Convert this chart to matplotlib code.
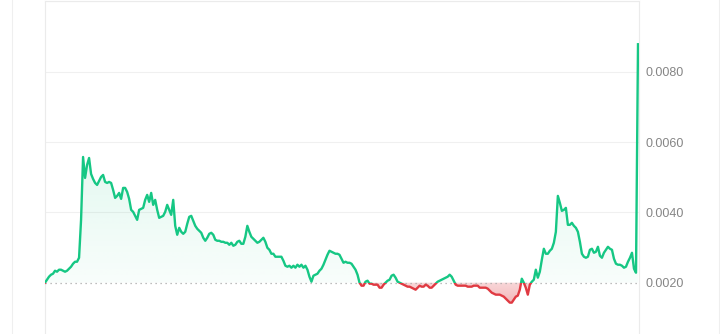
import numpy as np
import matplotlib
matplotlib.use("Agg")
import matplotlib.pyplot as plt
from matplotlib.path import Path
from matplotlib.patches import Rectangle
from matplotlib.lines import Line2D
from matplotlib.colors import to_rgb

prices = [
    0.002000, 0.002085, 0.002170, 0.002227, 0.002255, 0.002340, 0.002312, 0.002369, 0.002369, 0.002340,
    0.002312, 0.002340, 0.002397, 0.002454, 0.002539, 0.002596, 0.002596, 0.002709, 0.003787, 0.005575,
    0.004979, 0.005348, 0.005546, 0.005092, 0.004950, 0.004837, 0.004780, 0.004894, 0.005007, 0.005064,
    0.004865, 0.004837, 0.004865, 0.004837, 0.004638, 0.004411, 0.004468, 0.004553, 0.004383, 0.004695,
    0.004695, 0.004582, 0.004383, 0.004071, 0.004014, 0.003901, 0.003787, 0.004071, 0.004099, 0.004128,
    0.004355, 0.004497, 0.004298, 0.004553, 0.004213, 0.004355, 0.004071, 0.003844, 0.003872, 0.003901,
    0.004014, 0.004213, 0.004071, 0.003929, 0.004355, 0.003617, 0.003362, 0.003560, 0.003447, 0.003390,
    0.003447, 0.003674, 0.003872, 0.003901, 0.003759, 0.003617, 0.003532, 0.003475, 0.003419, 0.003277,
    0.003192, 0.003277, 0.003390, 0.003419, 0.003362, 0.003220, 0.003192, 0.003192, 0.003163, 0.003163,
    0.003135, 0.003135, 0.003078, 0.003135, 0.003050, 0.003078, 0.003163, 0.003192, 0.003106, 0.003106,
    0.003305, 0.003617, 0.003447, 0.003305, 0.003248, 0.003192, 0.003135, 0.003163, 0.003220, 0.003277,
    0.003163, 0.002993, 0.002936, 0.002823, 0.002823, 0.002738, 0.002738, 0.002738, 0.002738, 0.002624,
    0.002482, 0.002454, 0.002482, 0.002426, 0.002482, 0.002426, 0.002511, 0.002454, 0.002511, 0.002426,
    0.002482, 0.002369, 0.002170, 0.002028, 0.002199, 0.002227, 0.002255, 0.002340, 0.002397, 0.002511,
    0.002653, 0.002794, 0.002908, 0.002879, 0.002851, 0.002823, 0.002823, 0.002794, 0.002681, 0.002567,
    0.002596, 0.002567, 0.002567, 0.002539, 0.002454, 0.002369, 0.002227, 0.002000, 0.001915, 0.001915,
    0.002028, 0.002057, 0.001972, 0.001972, 0.001943, 0.001943, 0.001943, 0.001858, 0.001858, 0.001943,
    0.002000, 0.002057, 0.002085, 0.002199, 0.002227, 0.002142, 0.002028, 0.002000, 0.001972, 0.001943,
    0.001915, 0.001887, 0.001887, 0.001858, 0.001830, 0.001801, 0.001858, 0.001915, 0.001887, 0.001887,
    0.001943, 0.001915, 0.001858, 0.001858, 0.001915, 0.001972, 0.002028, 0.002057, 0.002085, 0.002113,
    0.002142, 0.002170, 0.002227, 0.002170, 0.002057, 0.001943, 0.001915, 0.001915, 0.001915, 0.001915,
    0.001915, 0.001887, 0.001887, 0.001887, 0.001915, 0.001915, 0.001915, 0.001858, 0.001858, 0.001858,
    0.001858, 0.001830, 0.001773, 0.001716, 0.001688, 0.001660, 0.001660, 0.001660, 0.001631, 0.001603,
    0.001546, 0.001489, 0.001433, 0.001433, 0.001518, 0.001603, 0.001631, 0.001801, 0.002113, 0.002000,
    0.001858, 0.001660, 0.001943, 0.002028, 0.002085, 0.002369, 0.002142, 0.002312, 0.002653, 0.002965,
    0.002823, 0.002823, 0.002908, 0.002965, 0.003135, 0.003447, 0.004468, 0.004270, 0.004043, 0.004071,
    0.004128, 0.003645, 0.003645, 0.003702, 0.003617, 0.003560, 0.003447, 0.003163, 0.002823, 0.002738,
    0.002709, 0.002738, 0.002936, 0.002965, 0.002851, 0.002879, 0.003021, 0.002766, 0.002709, 0.002851,
    0.002936, 0.003021, 0.002965, 0.002936, 0.002681, 0.002539, 0.002511, 0.002511, 0.002482, 0.002426,
    0.002454, 0.002596, 0.002709, 0.002851, 0.002397, 0.002284, 0.008780,
]
baseline = prices[0]
y_ticks = [0.0020, 0.0040, 0.0060, 0.0080]
y_ticklabels = ["0.0020", "0.0040", "0.0060", "0.0080"]
grid_levels = [0.0040, 0.0060, 0.0080, 0.0100]

GREEN = "#16c784"
RED = "#e03a42"

plt.rcParams["font.family"] = ["Liberation Sans", "DejaVu Sans"]

W, H = 720, 334
fig = plt.figure(figsize=(W / 100, H / 100), dpi=100)
fig.patch.set_facecolor("white")
ax = fig.add_axes([44.5 / W, 0, 594 / W, 333 / H])

x = np.arange(len(prices))
y = np.array(prices)
xmin, xmax = -0.25, len(prices) - 0.75
ymin, ymax = 0.000541, 0.01001

# gradient fills clipped to the area between price and baseline
up = ax.fill_between(x, y, baseline, where=y >= baseline, interpolate=True,
                     facecolor="none", edgecolor="none")
dn = ax.fill_between(x, y, baseline, where=y <= baseline, interpolate=True,
                     facecolor="none", edgecolor="none")


def gradient(coll, color, a_bottom, a_top, y0, y1):
    paths = coll.get_paths()
    if not paths:
        return
    cp = Path.make_compound_path(*paths)
    n = 256
    rgba = np.zeros((n, 1, 4))
    rgba[..., :3] = to_rgb(color)
    rgba[:, 0, 3] = np.linspace(a_bottom, a_top, n)
    im = ax.imshow(rgba, extent=[xmin, xmax, y0, y1], origin="lower",
                   aspect="auto", zorder=1, interpolation="bilinear")
    im.set_clip_path(cp, ax.transData)


gradient(up, GREEN, 0.03, 0.20, baseline, 0.0090)
gradient(dn, RED, 0.38, 0.20, 0.0014, baseline)

# grid
for g in grid_levels:
    ax.axhline(g, color="#f0f0f0", lw=0.8, zorder=0.5)

# baseline
ax.axhline(baseline, color="#a8a8a8", lw=0.9, linestyle=(0, (1, 3)), zorder=2)

# price line split at the baseline
lg, = ax.plot(x, y, color=GREEN, lw=1.7, zorder=3, solid_joinstyle="round")
lg.set_clip_path(Rectangle((xmin, baseline), xmax - xmin, 1.0, transform=ax.transData))
lr, = ax.plot(x, y, color=RED, lw=1.7, zorder=3, solid_joinstyle="round")
lr.set_clip_path(Rectangle((xmin, -1.0), xmax - xmin, 1.0 + baseline, transform=ax.transData))

ax.set_xlim(xmin, xmax)
ax.set_ylim(ymin, ymax)

for side in ["left", "right", "top"]:
    ax.spines[side].set_color("#ebebeb")
    ax.spines[side].set_linewidth(0.8)
ax.spines["bottom"].set_visible(False)

ax.yaxis.tick_right()
ax.set_yticks(y_ticks, y_ticklabels)
ax.tick_params(axis="y", length=0, pad=5, labelsize=9, labelcolor="#858585")
ax.set_xticks([])

for fx in [11.5, 718.5]:
    fig.add_artist(Line2D([fx / W, fx / W], [0, 1], transform=fig.transFigure,
                          color="#efefef", lw=0.8))

fig.savefig("out.png", dpi=100)
